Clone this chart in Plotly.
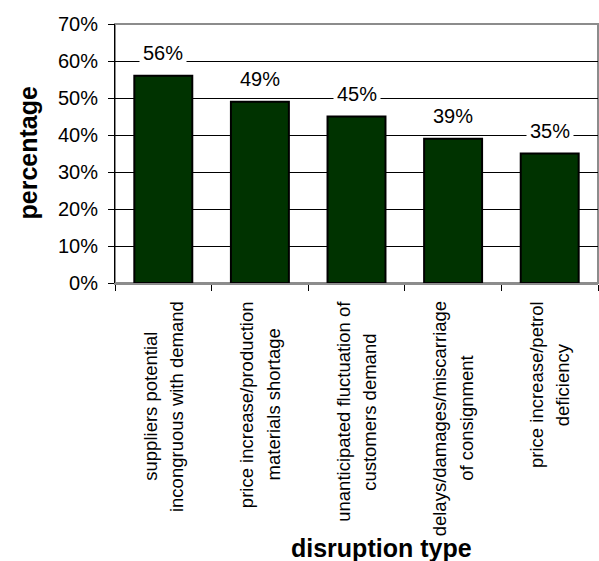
import plotly.graph_objects as go

categories = [
    "suppliers potential<br>incongruous with demand",
    "price increase/production<br>materials shortage",
    "unanticipated fluctuation of<br>customers demand",
    "delays/damages/miscarriage<br>of consignment",
    "price increase/petrol<br>deficiency",
]
values = [0.56, 0.49, 0.45, 0.39, 0.35]
value_labels = ["56%", "49%", "45%", "39%", "35%"]
y_ticks = [0, 0.1, 0.2, 0.3, 0.4, 0.5, 0.6, 0.7]

FONT = "Liberation Sans, Arial, sans-serif"
xpos = list(range(len(categories)))

fig = go.Figure()
fig.add_trace(go.Bar(
    x=xpos, y=values, width=0.6,
    marker=dict(color="#003300", line=dict(color="#000000", width=2)),
    showlegend=False, hoverinfo="skip",
))

annotations = []
for i, (v, lab) in enumerate(zip(values, value_labels)):
    annotations.append(dict(
        x=i, y=v, xref="x", yref="y", text=lab, showarrow=False,
        yanchor="middle", yshift=23, bgcolor="white", borderpad=3,
        font=dict(family=FONT, size=20, color="black"),
    ))

HIDE = "<span style='color:rgba(0,0,0,0)'>%s</span>"
for i, c in enumerate(categories):
    lines = c.split("<br>")
    # draw each line separately (others invisible) so line spacing can be widened
    for k in range(len(lines)):
        txt = "<br>".join(l if j == k else HIDE % l for j, l in enumerate(lines))
        annotations.append(dict(
            x=i, y=0, xref="x", yref="paper", text=txt, showarrow=False,
            textangle=-90, yanchor="top", xanchor="center", yshift=-16,
            xshift=(k - (len(lines) - 1) / 2) * 2.5, align="center",
            font=dict(family=FONT, size=18.5, color="black"),
        ))
annotations.append(dict(
    x=0, y=0.5, xref="paper", yref="paper", text="<b>percentage</b>", showarrow=False,
    textangle=-90, xanchor="center", yanchor="middle", xshift=-88,
    font=dict(family=FONT, size=25, color="black"),
))
annotations.append(dict(
    x=330 / 599, y=0, xref="paper", yref="paper", text="<b>disruption type</b>", showarrow=False,
    xanchor="center", yanchor="middle", yshift=-(548 - 283),
    font=dict(family=FONT, size=25, color="black"),
))

fig.update_layout(
    width=599, height=561,
    margin=dict(l=115, r=1, t=24, b=278),
    paper_bgcolor="white", plot_bgcolor="white",
    annotations=annotations,
    shapes=[dict(type="rect", xref="paper", yref="paper", x0=0, x1=1, y0=0, y1=1,
                 line=dict(color="#8c8c8c", width=2), layer="below")],
)
fig.update_xaxes(
    range=[-0.5, 4.5], tickvals=[-0.5, 0.5, 1.5, 2.5, 3.5, 4.5], ticktext=[""] * 6,
    ticks="outside", ticklen=6, tickcolor="black", tickwidth=1,
    showgrid=False, zeroline=False, showline=True, linecolor="#8c8c8c", linewidth=2,
)
fig.update_yaxes(
    range=[0, 0.7], tickvals=y_ticks, tickformat=".0%",
    ticks="outside", ticklen=6, tickcolor="black", tickwidth=1,
    showgrid=True, gridcolor="#000000", gridwidth=1, zeroline=False,
    showline=True, linecolor="#000000", linewidth=1,
    tickfont=dict(family=FONT, size=20, color="black"), ticklabelstandoff=6,
)
fig.write_html("out.html")
